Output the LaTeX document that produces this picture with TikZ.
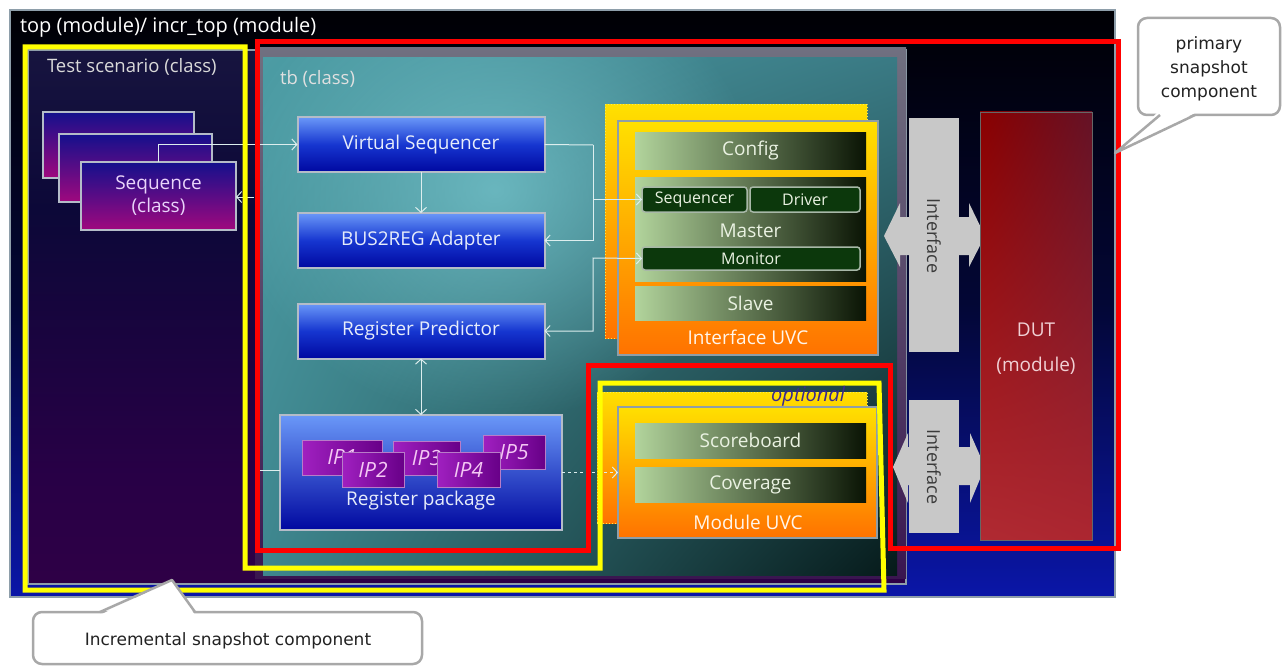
\documentclass[tikz,border=0pt]{standalone}
\usepackage{fontspec}
\setmainfont{Open Sans}
\newfontfamily\callfont{DejaVu Sans}
\usetikzlibrary{arrows.meta,shadings,fadings}
\tikzfading[name=softglow,inner color=transparent!30,outer color=transparent!100]
\definecolor{outerT}{HTML}{000004}
\definecolor{outerB}{HTML}{0A16A8}
\definecolor{outerEdge}{HTML}{8E9EAA}
\definecolor{tsT}{HTML}{50505E}
\definecolor{tsU}{HTML}{1C1A42}
\definecolor{tsM}{HTML}{0C0838}
\definecolor{tsL}{HTML}{280046}
\definecolor{tsB}{HTML}{3E0046}
\pgfdeclareverticalshading{tsshade}{100bp}{color(0bp)=(tsB); color(35bp)=(tsL); color(60bp)=(tsM); color(82bp)=(tsU); color(100bp)=(tsT)}
\definecolor{tbfT}{HTML}{707080}
\definecolor{tbfB}{HTML}{3A1650}
\definecolor{tealUL}{HTML}{4C9CA4}
\definecolor{tealUR}{HTML}{3A7A84}
\definecolor{tealLL}{HTML}{3E868E}
\definecolor{tealLR}{HTML}{061A1A}
\definecolor{tealGlow}{HTML}{7CCCD4}
\definecolor{blueA}{HTML}{6A98F8}
\definecolor{blueB}{HTML}{1636D0}
\definecolor{blueC}{HTML}{0008A0}
\definecolor{boxedge}{HTML}{B4BCC8}
\definecolor{txtlight}{HTML}{E6ECFA}
\definecolor{seqT}{HTML}{14108C}
\definecolor{seqB}{HTML}{A0087E}
\definecolor{ipA}{HTML}{A020C0}
\definecolor{ipB}{HTML}{680088}
\definecolor{ipEdge}{HTML}{B87CC8}
\definecolor{ipTxt}{HTML}{F4C8F4}
\definecolor{uvcT}{HTML}{FFE000}
\definecolor{uvcB}{HTML}{FF7200}
\definecolor{uvcEdge}{HTML}{8E9EA8}
\definecolor{grnL}{HTML}{B2D49C}
\definecolor{grnD}{HTML}{0A1404}
\definecolor{grnTxt}{HTML}{EAF2E2}
\definecolor{subFill}{HTML}{0C380C}
\definecolor{subEdge}{HTML}{A8B8A8}
\definecolor{linec}{HTML}{DDEEEE}
\definecolor{ifFill}{HTML}{C8C8C8}
\definecolor{ifTxt}{HTML}{3A3A3A}
\definecolor{dutUL}{HTML}{8A0000}
\definecolor{dutUR}{HTML}{641226}
\definecolor{dutLL}{HTML}{B02A32}
\definecolor{dutLR}{HTML}{AC2630}
\definecolor{dutTxt}{HTML}{F0D0D4}
\definecolor{redl}{HTML}{FF0000}
\definecolor{yell}{HTML}{FFFF00}
\definecolor{optTxt}{HTML}{3A2890}
\definecolor{callEdge}{HTML}{A8A8A8}
\definecolor{callTxt}{HTML}{222222}
\begin{document}
\begin{tikzpicture}[x=1pt,y=-1pt,
  every node/.style={inner sep=0pt,outer sep=0pt},
  conn/.style={draw=linec,line width=1pt},
  tip/.style={-{Straight Barb[length=5pt,width=11pt]}},
  tips/.style={{Straight Barb[length=5pt,width=11pt]}-{Straight Barb[length=5pt,width=11pt]}},
  bluebox/.style={draw=boxedge,line width=2pt,top color=blueA,bottom color=blueC,middle color=blueB,text=txtlight,font=\fontsize{19}{22}\selectfont},
  seqbox/.style={draw=boxedge,line width=2pt,top color=seqT,bottom color=seqB},
  ipbox/.style={draw=ipEdge,line width=1pt,left color=ipA,right color=ipB,text=ipTxt,font=\fontsize{21}{22}\selectfont\itshape},
  uvcbox/.style={draw=uvcEdge,line width=2pt,top color=uvcT,bottom color=uvcB},
  shadowbox/.style={draw=uvcT!70!white,dotted,line width=1pt,top color=uvcT,bottom color=uvcB},
  grnbox/.style={draw=none,left color=grnL,right color=grnD,text=grnTxt,font=\fontsize{19}{22}\selectfont},
  subbox/.style={draw=subEdge,line width=1.5pt,rounded corners=3pt,fill=subFill,text=grnTxt,font=\fontsize{16}{19}\selectfont},
  iface/.style={fill=ifFill},
  labl/.style={anchor=west,font=\fontsize{18.5}{22}\selectfont},
  callout/.style={draw=callEdge,line width=2.5pt,fill=white,rounded corners=9pt},
  calltext/.style={text=callTxt,font=\callfont\fontsize{17}{24}\selectfont,align=center}
]
\useasboundingbox (0,0) rectangle (1285,666);
\fill[white] (0,0) rectangle (1285,666);
% outer top module
\shade[top color=outerT,bottom color=outerB,middle color=outerT!70!outerB] (10,10) rectangle (1115,597);
\draw[outerEdge,line width=2pt] (10,10) rectangle (1115,597);
\node[labl,text=white,font=\fontsize{20}{22}\selectfont] (toplbl) at (20,27) {top (module)/ incr\_top (module)};
% test scenario
\shade[shading=tsshade] (28,50) rectangle (906,584);
\draw[outerEdge,line width=1.5pt] (28,50) rectangle (906,584);
\node[labl,text=white!85!black] (tslbl) at (47,67) {Test scenario (class)};
% tb frame
\shade[top color=tbfT,bottom color=tbfB] (255,48) rectangle (906,578);
\shade[upper left=tealUL,upper right=tealUR,lower left=tealLL,lower right=tealLR] (263,58) rectangle (897,575);
\begin{scope}
\clip (263,58) rectangle (897,575);
\fill[tealGlow,path fading=softglow] (230,-40) rectangle (760,420);
\end{scope}
\node[labl,text=white!88!black] (tblbl) at (280,79) {tb (class)};
% sequences
\node[seqbox,minimum width=151pt,minimum height=66pt] (s1) at (118.5,145) {};
\node[seqbox,minimum width=153pt,minimum height=68pt] (s2) at (135.5,168) {};
\node[seqbox,minimum width=155pt,minimum height=68pt,text=txtlight!90!magenta,font=\fontsize{19}{23}\selectfont,align=center] (s3) at (158.5,196) {Sequence\\(class)};
% blue boxes
\node[bluebox,minimum width=247pt,minimum height=55pt] (vs) at (421,144.5) {Virtual Sequencer};
\node[bluebox,minimum width=247pt,minimum height=55pt] (b2r) at (421,240.5) {BUS2REG Adapter};
\node[bluebox,minimum width=247pt,minimum height=55pt] (rp) at (421,331) {Register Predictor};
\node[bluebox,minimum width=282pt,minimum height=115pt,top color=blueA,middle color=blueB!80!blueC,bottom color=blueC] (rpk) at (421,472.5) {};
\node[text=txtlight,font=\fontsize{19}{22}\selectfont] (rpklbl) at (421,501) {Register package};
% IPs
\node[ipbox,minimum width=80pt,minimum height=35pt] (ip1) at (342,457.5) {IP1};
\node[ipbox,minimum width=67pt,minimum height=34pt] (ip3) at (426.5,458) {IP3};
\node[ipbox,minimum width=62pt,minimum height=34pt] (ip5) at (514,452) {IP5};
\node[ipbox,minimum width=62pt,minimum height=35pt] (ip2) at (373,469.5) {IP2};
\node[ipbox,minimum width=63pt,minimum height=35pt] (ip4) at (468.5,469.5) {IP4};
% Interface UVC
\node[shadowbox,minimum width=262pt,minimum height=233pt] (iushadow) at (736,221.5) {};
\node[uvcbox,minimum width=260pt,minimum height=234pt] (iu) at (748,238) {};
\node[text=white!92!orange,font=\fontsize{19}{22}\selectfont] (iulbl) at (748,337) {Interface UVC};
\node[grnbox,minimum width=231pt,minimum height=36pt] (cfg) at (750.5,151) {Config};
\node[grnbox,minimum width=231pt,minimum height=104pt] (mst) at (750.5,229) {};
\node[text=grnTxt,font=\fontsize{19}{22}\selectfont] (mstlbl) at (750.5,231) {Master};
\node[subbox,minimum width=105pt,minimum height=25pt] (sqr) at (694.5,199.5) {Sequencer};
\node[subbox,minimum width=110pt,minimum height=25pt] (drv) at (805,199.5) {Driver};
\node[subbox,minimum width=218pt,minimum height=23pt] (mon) at (751,258.5) {Monitor};
\node[grnbox,minimum width=231pt,minimum height=34pt] (slv) at (750.5,303) {Slave};
% Module UVC
\node[shadowbox,minimum width=270pt,minimum height=131pt] (mushadow) at (732,457.5) {};
\node[uvcbox,minimum width=259pt,minimum height=131pt] (mu) at (747.5,472.5) {};
\node[text=white!92!orange,font=\fontsize{19}{22}\selectfont] (mulbl) at (748,522) {Module UVC};
\node[grnbox,minimum width=231pt,minimum height=35pt] (scb) at (750.5,440.5) {Scoreboard};
\node[grnbox,minimum width=231pt,minimum height=35pt] (cov) at (750.5,484.5) {Coverage};
% connectors
\coordinate (j1) at (593,145);
\coordinate (j2) at (593,258);
\coordinate (sqtop) at (158,162);
\coordinate (tbin) at (254,197);
\coordinate (rpkout) at (258,470);
\draw[conn,tip] (sqtop) |- (vs.west);
\draw[conn,tip] (tbin) -- (s3.east |- tbin);
\draw[conn,tip] (vs.south) -- (b2r.north);
\draw[conn] (vs.east) -- (j1);
\draw[conn,tip] (j1) |- (b2r.east);
\draw[conn,tip] (j1 |- sqr.west) -- (sqr.west);
\draw[conn,tips] (mon.west) -- (j2) |- (rp.east);
\draw[conn,tips] (rp.south) -- (rpk.north);
\draw[conn] (rpk.west |- rpkout) -- (rpkout);
\draw[conn,tip,dashed] (rpk.east |- mu.west) -- (mu.west);
% Interfaces
\fill[iface] (909,118) rectangle (959,352);
\fill[iface] (884,236) -- (900,203) -- (900,217) -- (969,217) -- (969,203) -- (985,236) -- (969,267) -- (969,255) -- (900,255) -- (900,267) -- cycle;
\node[rotate=-90,text=ifTxt,font=\fontsize{18}{20}\selectfont] (if1) at (934,236) {Interface};
\fill[iface] (909,400) rectangle (959,533);
\fill[iface] (893,467) -- (908,433) -- (908,447) -- (970,447) -- (970,433) -- (985,467) -- (970,503) -- (970,485) -- (908,485) -- (908,503) -- cycle;
\node[rotate=-90,text=ifTxt,font=\fontsize{18}{20}\selectfont] (if2) at (934,467) {Interface};
% DUT
\shade[upper left=dutUL,upper right=dutUR,lower left=dutLL,lower right=dutLR] (980,112) rectangle (1092,540);
\draw[black!60,line width=0.8pt] (980,112) rectangle (1092,540);
\node[text=dutTxt,font=\fontsize{19}{22}\selectfont] (dut) at (1036,330) {DUT};
\node[text=dutTxt,font=\fontsize{19}{22}\selectfont] (dutm) at (1036,366) {(module)};
% snapshot outlines
\draw[redl,line width=5pt,line join=miter] (257,42) -- (1118,42) -- (1118,548) -- (890,548) -- (890,365) -- (588,365) -- (588,550) -- (257,550) -- cycle;
\draw[yell,line width=5pt,line join=miter] (25,47) -- (245,47) -- (245,568) -- (600,568) -- (600,383) -- (879,383) -- (884,590) -- (25,590) -- cycle;
\node[text=optTxt,font=\fontsize{20}{22}\selectfont\itshape] (opt) at (808,396) {optional};
% callouts
\draw[callout] (1138,18) rectangle (1280,115);
\fill[white] (1158,112) -- (1115,153) -- (1197,112) -- cycle;
\draw[callEdge,line width=2.5pt,line join=round] (1160,115) -- (1115,153) -- (1195,115);
\node[calltext] (pcall) at (1209,69) {primary\\snapshot\\component};
\draw[callout] (33,612) rectangle (422,664);
\fill[white] (100,615) -- (172,580) -- (195,615) -- cycle;
\draw[callEdge,line width=2.5pt,line join=round] (100,612) -- (172,580) -- (195,612);
\node[calltext] (icall) at (228,641) {Incremental snapshot component};
\end{tikzpicture}
\end{document}
